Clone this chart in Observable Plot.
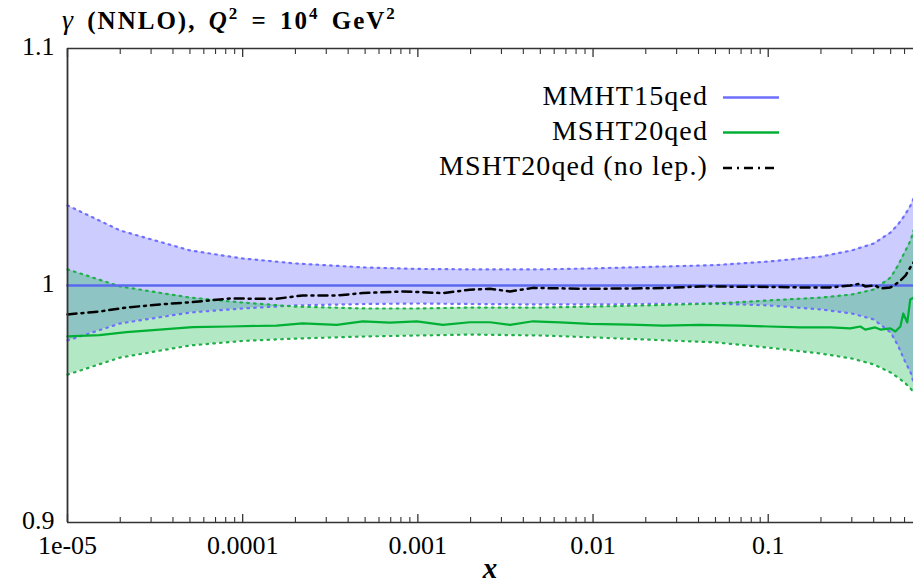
<!DOCTYPE html>
<html>
<head>
<meta charset="utf-8">
<script src="https://cdn.jsdelivr.net/npm/d3@7"></script>
<script src="https://cdn.jsdelivr.net/npm/@observablehq/plot@0.6"></script>
<style>
  html, body { margin: 0; padding: 0; background: #fff; }
  #wrap { position: relative; width: 913px; height: 585px; overflow: hidden; }
  #wrap svg.ov { position: absolute; left: 0; top: 0; pointer-events: none; }
</style>
</head>
<body>
<div id="wrap"></div>
<script>
// ---- data ----
const bandX = [1e-5, 2e-5, 5e-5, 1e-4, 2e-4, 5e-4, 1e-3, 2e-3, 5e-3, 0.01, 0.02, 0.05, 0.1, 0.2, 0.3, 0.4, 0.5, 0.55, 0.6, 0.65, 0.675];
const mmhtCentral = [1, 1, 1, 1, 1, 1, 1, 1, 1, 1, 1, 1, 1, 1, 1, 1, 1, 1, 1, 1, 1];
const mmhtUpper = [1.0338, 1.0232, 1.0148, 1.0114, 1.0093, 1.0076, 1.0070, 1.0068, 1.0068, 1.0072, 1.0078, 1.0086, 1.0101, 1.0122, 1.0148, 1.0177, 1.0224, 1.0257, 1.0295, 1.0338, 1.0367];
const mmhtLower = [0.9768, 0.9840, 0.9886, 0.9903, 0.9916, 0.9922, 0.9924, 0.9922, 0.9920, 0.9920, 0.9922, 0.9924, 0.9916, 0.9899, 0.9882, 0.9857, 0.9802, 0.9747, 0.9684, 0.9633, 0.9591];
const mshtUpper = [1.0068, 0.9996, 0.9949, 0.9928, 0.9911, 0.9903, 0.9903, 0.9907, 0.9907, 0.9911, 0.9916, 0.9924, 0.9937, 0.9949, 0.9962, 0.9983, 1.0034, 1.0084, 1.0139, 1.0190, 1.0232];
const mshtLower = [0.9624, 0.9696, 0.9747, 0.9766, 0.9776, 0.9785, 0.9789, 0.9793, 0.9789, 0.9781, 0.9772, 0.9760, 0.9738, 0.9713, 0.9692, 0.9667, 0.9633, 0.9612, 0.9591, 0.9565, 0.9549];

const mshtX = [1e-5, 1.52e-5, 2.17e-5, 3.36e-5, 5.18e-5, 8.43e-5, 1.56e-4, 2.2e-4, 3.44e-4, 4.85e-4, 6.92e-4, 9.87e-4, 1.39e-3, 1.98e-3, 2.58e-3, 3.36e-3, 4.54e-3, 6.48e-3, 9.6e-3, 0.0163, 0.0251, 0.0408, 0.0692, 0.101, 0.152, 0.226, 0.294, 0.336, 0.358, 0.408, 0.437, 0.498, 0.532, 0.568, 0.59, 0.622, 0.647, 0.675];
const mshtCentral = [0.9785, 0.9791, 0.9803, 0.9814, 0.9824, 0.9827, 0.9831, 0.9840, 0.9834, 0.9849, 0.9843, 0.9849, 0.9834, 0.9845, 0.9845, 0.9834, 0.9849, 0.9844, 0.9838, 0.9835, 0.9831, 0.9834, 0.9831, 0.9827, 0.9823, 0.9823, 0.9819, 0.9827, 0.9814, 0.9823, 0.9814, 0.9819, 0.9806, 0.9827, 0.9882, 0.9844, 0.9941, 0.9949];

const noLepX = [1e-5, 1.52e-5, 2.17e-5, 3.36e-5, 5.18e-5, 8.43e-5, 1.56e-4, 2.2e-4, 3.44e-4, 4.85e-4, 8.2e-4, 1.39e-3, 1.98e-3, 2.58e-3, 3.36e-3, 4.54e-3, 9.6e-3, 0.0251, 0.0408, 0.101, 0.152, 0.226, 0.294, 0.336, 0.358, 0.408, 0.437, 0.498, 0.532, 0.568, 0.607, 0.647, 0.675];
const noLepCentral = [0.9878, 0.9890, 0.9907, 0.9920, 0.9930, 0.9945, 0.9944, 0.9958, 0.9958, 0.9968, 0.9975, 0.9968, 0.9982, 0.9986, 0.9975, 0.9990, 0.9986, 0.9989, 0.9996, 0.9994, 0.9992, 0.9992, 1.0000, 1.0008, 0.9996, 1.0000, 0.9987, 0.9992, 1.0004, 1.0021, 1.0042, 1.0076, 1.0097];

const xMajorTicks = [1e-5, 1e-4, 1e-3, 1e-2, 1e-1];
const xTickLabels = ["1e-05", "0.0001", "0.001", "0.01", "0.1"];
const yTicks = [0.9, 1, 1.1];
const yTickLabels = ["0.9", "1", "1.1"];
const xDomain = [1e-5, 0.675];
const yDomain = [0.9, 1.1];

const seriesNames = ["MMHT15qed", "MSHT20qed", "MSHT20qed (no lep.)"];
const xLabel = "x";

// ---- build tables ----
const bands = bandX.map((x, i) => ({x, c: mmhtCentral[i], mu: mmhtUpper[i], ml: mmhtLower[i], su: mshtUpper[i], sl: mshtLower[i]}));
const msht = mshtX.map((x, i) => ({x, y: mshtCentral[i]}));
const nolep = noLepX.map((x, i) => ({x, y: noLepCentral[i]}));
const xMinorTicks = [];
for (const d of xMajorTicks) for (let k = 2; k <= 9; k++) { const v = d * k; if (v <= xDomain[1]) xMinorTicks.push(v); }
const xLabelMap = new Map(xMajorTicks.map((d, i) => [d, xTickLabels[i]]));
const yLabelMap = new Map(yTicks.map((d, i) => [d, yTickLabels[i]]));

const FONT = "'Liberation Serif', 'Times New Roman', Times, 'Noto Serif', 'DejaVu Serif', FreeSerif, serif";
const blue = "#0000ff", blueLine = "#5a68ee", blueDot = "#6f6fff";
const green = "#00b33c", greenLine = "#00b035", greenDot = "#1fb04a";
const axisCol = "#333";
const dots = "1.6,5.2";

const chart = Plot.plot({
  width: 913, height: 585,
  marginLeft: 67, marginRight: 0, marginTop: 48, marginBottom: 63,
  style: {fontFamily: FONT, fontSize: "26px", color: "#000", background: "#fff", overflow: "visible"},
  x: {type: "log", domain: xDomain},
  y: {domain: yDomain},
  marks: [
    Plot.areaY(bands, {x: "x", y1: "ml", y2: "mu", fill: blue, fillOpacity: 0.2}),
    Plot.areaY(bands, {x: "x", y1: "sl", y2: "su", fill: green, fillOpacity: 0.3}),
    Plot.lineY(bands, {x: "x", y: "mu", stroke: blueDot, strokeWidth: 2.2, strokeDasharray: dots}),
    Plot.lineY(bands, {x: "x", y: "ml", stroke: blueDot, strokeWidth: 2.2, strokeDasharray: dots}),
    Plot.lineY(bands, {x: "x", y: "su", stroke: greenDot, strokeWidth: 2.2, strokeDasharray: dots}),
    Plot.lineY(bands, {x: "x", y: "sl", stroke: greenDot, strokeWidth: 2.2, strokeDasharray: dots}),
    Plot.lineY(bands, {x: "x", y: "c", stroke: blueLine, strokeWidth: 2.6}),
    Plot.lineY(msht, {x: "x", y: "y", stroke: greenLine, strokeWidth: 2.2}),
    Plot.lineY(nolep, {x: "x", y: "y", stroke: "#000", strokeWidth: 2.5, strokeDasharray: "9,5,2,5"}),
    // frame (right side is cut off in the reference)
    Plot.ruleY([yDomain[0], yDomain[1]], {stroke: axisCol, strokeWidth: 1.6}),
    Plot.ruleX([xDomain[0]], {stroke: axisCol, strokeWidth: 1.8}),
    // inward ticks
    Plot.axisX({anchor: "bottom", ticks: xMajorTicks, tickSize: 8, dy: -8, tickFormat: () => "", stroke: axisCol, strokeWidth: 1.3, label: null}),
    Plot.axisX({anchor: "bottom", ticks: xMinorTicks, tickSize: 5, dy: -5, tickFormat: () => "", stroke: axisCol, strokeWidth: 1.1, label: null}),
    Plot.axisX({anchor: "top", ticks: xMajorTicks, tickSize: 8, dy: 8, tickFormat: () => "", stroke: axisCol, strokeWidth: 1.3, label: null}),
    Plot.axisX({anchor: "top", ticks: xMinorTicks, tickSize: 5, dy: 5, tickFormat: () => "", stroke: axisCol, strokeWidth: 1.1, label: null}),
    // labels
    Plot.axisX({anchor: "bottom", ticks: xMajorTicks, tickSize: 0, tickPadding: 13, tickFormat: d => xLabelMap.get(d), fontSize: 26, fontFamily: FONT, label: null}),
    Plot.axisY({anchor: "left", ticks: yTicks, tickSize: 0, tickPadding: 13, dy: -2, tickFormat: d => yLabelMap.get(d), fontSize: 26, fontFamily: FONT, label: null})
  ]
});

const wrap = document.getElementById("wrap");
wrap.appendChild(chart);

// overlay: title, legend, x label
const NS = "http://www.w3.org/2000/svg";
const ov = document.createElementNS(NS, "svg");
ov.setAttribute("class", "ov");
ov.setAttribute("width", 913);
ov.setAttribute("height", 585);
ov.innerHTML = `
  <text x="62" y="29" font-family="${FONT}" font-size="25" font-weight="bold" letter-spacing="2" word-spacing="4" fill="#000"><tspan font-style="italic" font-weight="normal" font-size="28">γ</tspan> (NNLO), <tspan font-style="italic">Q</tspan><tspan dy="-10" font-size="17">2</tspan><tspan dy="10"> = 10</tspan><tspan dy="-10" font-size="17">4</tspan><tspan dy="10"> GeV</tspan><tspan dy="-10" font-size="17">2</tspan></text>
  <g font-family="${FONT}" font-size="28" letter-spacing="1.1" fill="#000" text-anchor="end">
    <text x="708" y="105">${seriesNames[0]}</text>
    <text x="708" y="140">${seriesNames[1]}</text>
    <text x="708" y="175">${seriesNames[2]}</text>
  </g>
  <line x1="723" x2="779" y1="97.5" y2="97.5" stroke="${blueDot}" stroke-width="2.6"/>
  <line x1="723" x2="779" y1="132.5" y2="132.5" stroke="${greenLine}" stroke-width="2.4"/>
  <line x1="723" x2="779" y1="168" y2="168" stroke="#000" stroke-width="2.5" stroke-dasharray="9,5,2,5"/>
  <text x="490" y="578" text-anchor="middle" font-family="${FONT}" font-size="29" font-style="italic" font-weight="bold" fill="#000">${xLabel}</text>
`;
wrap.appendChild(ov);
</script>
</body>
</html>
